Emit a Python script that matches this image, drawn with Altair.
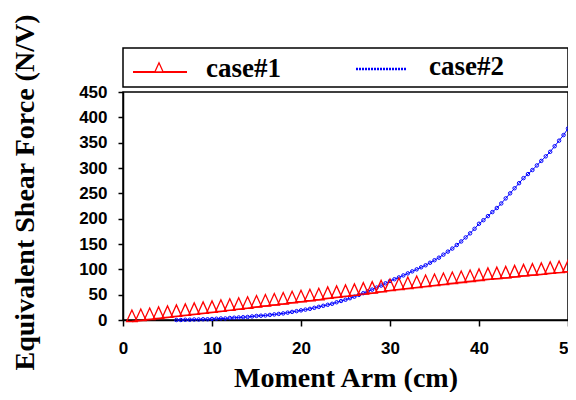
import altair as alt
import pandas as pd

series_names = ["case#1", "case#2"]
series_colors = ["#ff0000", "#0000ff"]

# case#1 : moment arm (cm) and equivalent shear force
case1_x = list(range(1, 51))
case1_y = [-3, -1, 1, 3, 5, 7, 9, 11, 13, 15,
           17, 19, 21, 23, 25.5, 27.5, 29.5, 31.5, 34, 36,
           38, 40, 42.5, 44.5, 46.5, 48.5, 51, 53, 55.5, 58,
           60, 62, 64, 66, 68, 70, 72, 74, 76, 78,
           80, 81.5, 83, 85, 87, 88.5, 90, 92, 93.5, 95]

# case#2
case2_x = [6, 6.5, 7, 7.5, 8, 8.5, 9, 9.5, 10, 10.5, 11, 11.5, 12, 12.5, 13, 13.5,
           14, 14.5, 15, 15.5, 16, 16.5, 17, 17.5, 18, 18.5, 19, 19.5, 20, 20.5,
           21, 21.5, 22, 22.5, 23, 23.5, 24, 24.5, 25, 25.5, 26, 26.5, 27, 27.5,
           28, 28.5, 29, 29.5, 30, 30.5, 31, 31.5, 32, 32.5, 33, 33.5, 34, 34.5,
           35, 35.5, 36, 36.5, 37, 37.5, 38, 38.5, 39, 39.5, 40, 40.5, 41, 41.5,
           42, 42.5, 43, 43.5, 44, 44.5, 45, 45.5, 46, 46.5, 47, 47.5, 48, 48.5,
           49, 49.5, 50]
case2_y = [0, 0, 0.5, 0.5, 1, 1, 1.5, 1.5, 2, 2.5, 3, 3, 4, 4.5, 5, 5.5,
           6, 7, 8, 8.5, 9, 10, 11, 12, 13, 14.5, 16, 17.5, 19, 20.5,
           22, 24, 26, 28, 30, 32, 35, 37.5, 40, 43, 46, 49.5, 53, 56.5,
           60, 64, 68, 72.5, 77, 80.5, 84, 88, 92, 96, 100, 104, 108, 113,
           118, 123, 129, 135, 141, 148, 155, 163, 171, 180, 190, 197, 205, 213,
           221, 230, 240, 250, 260, 270, 280, 288, 296, 305, 314, 323, 332, 343,
           354, 365, 378]

x_ticks = [0, 10, 20, 30, 40, 50]
y_ticks = [0, 50, 100, 150, 200, 250, 300, 350, 400, 450]

df1 = pd.DataFrame({"arm": case1_x, "force": case1_y, "series": series_names[0]})
df2 = pd.DataFrame({"arm": case2_x, "force": case2_y, "series": series_names[1]})
leg1 = pd.DataFrame({"label": [series_names[0]]})
leg2 = pd.DataFrame({"label": [series_names[1]]})
box = pd.DataFrame({"k": [0]})

W, H = 445, 228
SERIF = "Liberation Serif"
SANS = "Liberation Sans"

x_axis = alt.Axis(values=x_ticks, tickSize=6, labelPadding=14,
                  labelFont=SANS, labelFontSize=17, labelFontWeight="bold",
                  labelColor="black", labelFlush=False, labelOverlap=False,
                  title="Moment Arm (cm)", titleFont=SERIF, titleFontSize=28,
                  titleFontWeight="bold", titleColor="black",
                  titleBaseline="alphabetic", titleY=66, grid=False)
y_axis = alt.Axis(values=y_ticks, tickSize=5, labelPadding=11,
                  labelFont=SANS, labelFontSize=17, labelFontWeight="bold",
                  labelColor="black", labelFlush=False, labelOverlap=False,
                  title="Equivalent Shear Force (N/V)", titleFont=SERIF,
                  titleFontSize=28, titleFontWeight="bold", titleColor="black",
                  titleAngle=270, titleAlign="center", titleBaseline="alphabetic",
                  titleX=-90, titleY=100, grid=False)
x_enc = alt.X("arm:Q", scale=alt.Scale(domain=[0, 50], nice=False), axis=x_axis)
y_enc = alt.Y("force:Q", scale=alt.Scale(domain=[0, 450], nice=False), axis=y_axis)

tri = "M-1,0L0,-2.2L1,0Z"

line1 = alt.Chart(df1).mark_line(color=series_colors[0], strokeWidth=1.5).encode(x=x_enc, y=y_enc)
pts1 = alt.Chart(df1).mark_point(shape=tri, size=110, filled=False, stroke=series_colors[0],
                                 strokeWidth=1.3, opacity=1).encode(x=x_enc, y=y_enc)
line2 = alt.Chart(df2).mark_line(color=series_colors[1], strokeWidth=1).encode(x=x_enc, y=y_enc)
pts2 = alt.Chart(df2).mark_point(shape="circle", size=12, filled=False, stroke=series_colors[1],
                                 strokeWidth=1, opacity=1).encode(x=x_enc, y=y_enc)

legend_box = alt.Chart(box).mark_rect(fill="white", stroke="black", strokeWidth=1.5).encode(
    x=alt.value(0), x2=alt.value(W), y=alt.value(-44), y2=alt.value(-5))
leg_line1 = alt.Chart(box).mark_rule(color=series_colors[0], strokeWidth=2).encode(
    x=alt.value(10), x2=alt.value(64), y=alt.value(-20))
leg_tri1 = alt.Chart(box).mark_point(shape=tri, size=70, filled=True, fill="white",
                                     stroke=series_colors[0], strokeWidth=1.3, opacity=1).encode(
    x=alt.value(36), y=alt.value(-20))
leg_line2 = alt.Chart(box).mark_rule(color=series_colors[1], strokeWidth=2.5, strokeDash=[2, 1]).encode(
    x=alt.value(233), x2=alt.value(284), y=alt.value(-23))
leg_txt1 = alt.Chart(leg1).mark_text(font=SERIF, fontSize=27, fontWeight="bold", color="black",
                                     align="left", baseline="alphabetic").encode(
    x=alt.value(83), y=alt.value(-15), text="label:N")
leg_txt2 = alt.Chart(leg2).mark_text(font=SERIF, fontSize=27, fontWeight="bold", color="black",
                                     align="left", baseline="alphabetic").encode(
    x=alt.value(306), y=alt.value(-17), text="label:N")

chart = alt.layer(line1, line2, pts2, pts1, legend_box, leg_line1, leg_tri1, leg_line2,
                  leg_txt1, leg_txt2).properties(
    width=W, height=H,
    autosize=alt.AutoSizeParams(type="none"),
    padding={"left": 115, "top": 84, "right": 0, "bottom": 72},
).configure_view(stroke="black", strokeWidth=1.5).configure_axis(
    domainColor="black", domainWidth=1.5, tickColor="black", tickWidth=1.5)

chart.save("out.html", embed_options={"renderer": "svg", "actions": False})
